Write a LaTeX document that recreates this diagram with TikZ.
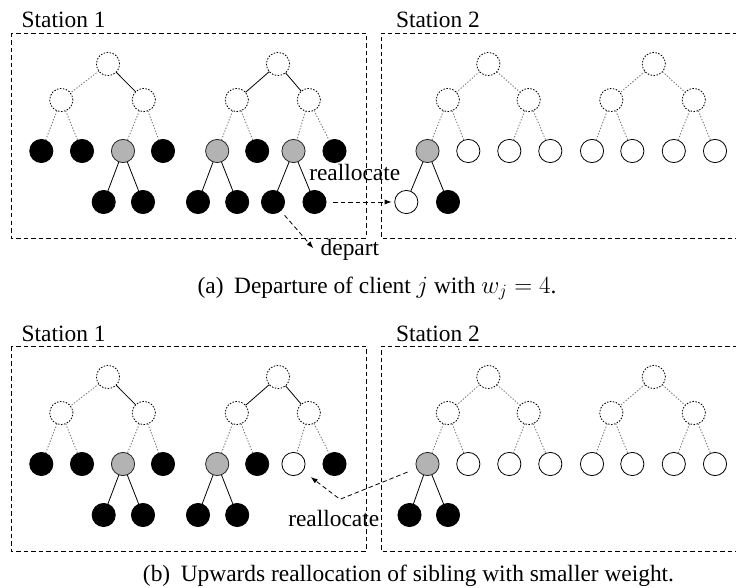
\documentclass[tikz,border=0pt]{standalone}
\usepackage{fontspec}
\setmainfont{Liberation Serif}
\usetikzlibrary{arrows.meta}
\definecolor{nodegray}{RGB}{179,179,179}
\definecolor{edgegray}{RGB}{120,120,120}
\newcommand\panelbase[4]{%
  % station boxes
  \draw[stationbox] (11,33) rectangle (366,238);
  \draw[stationbox] (737,33) -- (381,33) -- (381,238) -- (737,238);
  \node[lbl] (#1s1) at (21.7,28) {Station 1};
  \node[lbl] (#1s2) at (396,28) {Station 2};
  % station 1, tree 1
  \node[virt] (#1r1) at (108,64) {};
  \node[virt] (#1m11) at (61.3,100) {};
  \node[virt] (#1m12) at (143.8,100) {};
  \node[blk] (#1l11) at (41.3,151) {};
  \node[blk] (#1l12) at (82,151) {};
  \node[gry] (#1l13) at (123,151) {};
  \node[blk] (#1l14) at (163,151) {};
  \node[blk] (#1c11) at (103.7,202) {};
  \node[blk] (#1c12) at (143,202) {};
  \draw[dotedge] (#1r1) -- (#1m11);
  \draw[soledge] (#1r1) -- (#1m12);
  \draw[dotedge] (#1m11) -- (#1l11);
  \draw[dotedge] (#1m11) -- (#1l12);
  \draw[dotedge] (#1m12) -- (#1l13);
  \draw[dotedge] (#1m12) -- (#1l14);
  \draw[soledge] (#1l13) -- (#1c11);
  \draw[soledge] (#1l13) -- (#1c12);
  % station 1, tree 2
  \node[virt] (#1r2) at (278,64) {};
  \node[virt] (#1m21) at (236.8,100) {};
  \node[virt] (#1m22) at (308.8,100) {};
  \node[gry] (#1l21) at (217.2,151) {};
  \node[blk] (#1l22) at (257.2,151) {};
  \node[#2] (#1l23) at (293.5,151) {};
  \node[blk] (#1l24) at (334.5,151) {};
  \node[blk] (#1c21) at (198,202) {};
  \node[blk] (#1c22) at (237.2,202) {};
  \draw[soledge] (#1r2) -- (#1m21);
  \draw[soledge] (#1r2) -- (#1m22);
  \draw[dotedge] (#1m21) -- (#1l21);
  \draw[dotedge] (#1m21) -- (#1l22);
  \draw[dotedge] (#1m22) -- (#1l23);
  \draw[dotedge] (#1m22) -- (#1l24);
  \draw[soledge] (#1l21) -- (#1c21);
  \draw[soledge] (#1l21) -- (#1c22);
  % station 2
  \node[virt] (#1r3) at (488.3,64) {};
  \node[virt] (#1r4) at (653.8,64) {};
  \node[virt] (#1m31) at (447.8,100) {};
  \node[virt] (#1m32) at (528.7,100) {};
  \node[virt] (#1m41) at (611.3,100) {};
  \node[virt] (#1m42) at (693.8,100) {};
  \node[gry] (#1l31) at (427.5,151) {};
  \node[wht] (#1l32) at (468.3,151) {};
  \node[wht] (#1l33) at (509.3,151) {};
  \node[wht] (#1l34) at (550.3,151) {};
  \node[wht] (#1l41) at (592,151) {};
  \node[wht] (#1l42) at (632.3,151) {};
  \node[wht] (#1l43) at (673.8,151) {};
  \node[wht] (#1l44) at (715,151) {};
  \node[#3] (#1c31) at (#4,202) {};
  \node[blk] (#1c32) at (448,202) {};
  \draw[dotedge] (#1r3) -- (#1m31);
  \draw[dotedge] (#1r3) -- (#1m32);
  \draw[dotedge] (#1r4) -- (#1m41);
  \draw[dotedge] (#1r4) -- (#1m42);
  \draw[dotedge] (#1m31) -- (#1l31);
  \draw[dotedge] (#1m31) -- (#1l32);
  \draw[dotedge] (#1m32) -- (#1l33);
  \draw[dotedge] (#1m32) -- (#1l34);
  \draw[dotedge] (#1m41) -- (#1l41);
  \draw[dotedge] (#1m41) -- (#1l42);
  \draw[dotedge] (#1m42) -- (#1l43);
  \draw[dotedge] (#1m42) -- (#1l44);
  \draw[soledge] (#1l31) -- (#1c31);
  \draw[soledge] (#1l31) -- (#1c32);
}
\begin{document}
\begin{tikzpicture}[x=1pt,y=-1pt,
  every node/.style={inner sep=0pt, outer sep=0pt},
  circ/.style={circle, minimum size=23.2pt, line width=0.8pt},
  blk/.style={circ, draw=black, fill=black},
  gry/.style={circ, draw=black!85, fill=nodegray},
  wht/.style={circ, draw=black, fill=white},
  virt/.style={circ, draw=black, line width=0.85pt, dash pattern=on 1.5pt off 1.5pt},
  soledge/.style={line width=0.8pt, draw=black},
  dotedge/.style={line width=0.9pt, draw=edgegray, dash pattern=on 1.3pt off 1.7pt},
  stationbox/.style={line width=0.8pt, dash pattern=on 4.5pt off 3pt},
  arr/.style={line width=0.8pt, dash pattern=on 4.5pt off 3pt, -{Latex[length=7pt,width=5pt]}},
  txt/.style={font=\fontsize{23.4}{28}\selectfont},
  lbl/.style={txt, anchor=base west},
]
\useasboundingbox (0,0) rectangle (736,588);
% ---------- panel (a) ----------
\panelbase{a}{gry}{wht}{406.3}
\node[blk] (ac23) at (273,202) {};
\node[blk] (ac24) at (314.5,202) {};
\draw[soledge] (al23) -- (ac23);
\draw[soledge] (al23) -- (ac24);
\node[lbl] (areal) at (309.3,180.7) {reallocate};
\node[lbl] (adep) at (320.7,255) {depart};
\coordinate (adeptip) at (313.3,248.3);
\draw[arr, shorten <=7pt, shorten >=3pt] (ac24) -- (ac31);
\draw[arr, shorten <=6pt] (ac23) -- (adeptip);
\node[txt, anchor=base] (capa) at (377,293) {(a)\hspace{0.45em}Departure of client $j$ with $w_j = 4$.};
% ---------- panel (b) ----------
\begin{scope}[yshift=-313pt]
\panelbase{b}{wht}{blk}{409.5}
\node[lbl] (breal) at (288.3,213) {reallocate};
\coordinate (bcorner) at (340,186.3);
\draw[arr, shorten <=10pt, shorten >=10pt] (bl31) -- (bcorner) -- (bl23);
\node[txt, anchor=base] (capb) at (408.5,268.7) {(b)\hspace{0.45em}Upwards reallocation of sibling with smaller weight.};
\end{scope}
\end{tikzpicture}
\end{document}
